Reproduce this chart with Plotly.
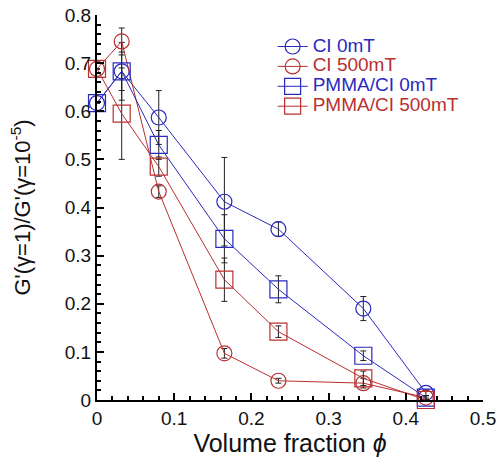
import plotly.graph_objects as go

phi = [0.0, 0.032, 0.080, 0.165, 0.235, 0.345, 0.426]

ci_0 = [0.617, 0.683, 0.587, 0.412, 0.355, 0.190, 0.015]
ci_0_err = [0.0, 0.060, 0.056, 0.092, 0.015, 0.025, 0.006]

ci_500 = [0.688, 0.745, 0.433, 0.097, 0.040, 0.035, 0.005]
ci_500_err = [0.0, 0.028, 0.012, 0.010, 0.005, 0.010, 0.004]

pmma_0 = [0.617, 0.683, 0.530, 0.335, 0.230, 0.092, 0.005]
pmma_0_err = [0.0, 0.040, 0.030, 0.050, 0.028, 0.010, 0.004]

pmma_500 = [0.688, 0.595, 0.485, 0.250, 0.142, 0.045, 0.000]
pmma_500_err = [0.0, 0.095, 0.020, 0.045, 0.012, 0.015, 0.004]

names = ["CI 0mT", "CI 500mT", "PMMA/CI 0mT", "PMMA/CI 500mT"]
BLUE = "#2a2abd"
RED = "#b83030"

series = [
    (names[0], ci_0, ci_0_err, BLUE, "circle-open", 15),
    (names[1], ci_500, ci_500_err, RED, "circle-open", 15),
    (names[2], pmma_0, pmma_0_err, BLUE, "square-open", 17),
    (names[3], pmma_500, pmma_500_err, RED, "square-open", 17),
]

fig = go.Figure()
for name, ys, errs, col, sym, sz in series:
    fig.add_trace(go.Scatter(
        x=phi, y=ys, mode="lines+markers",
        name=f"<span style='color:{col};font-size:19px'>{name}</span>",
        line=dict(color=col, width=1),
        marker=dict(symbol=sym, size=sz, color=col, line=dict(width=1.2, color=col)),
        error_y=dict(type="data", array=errs, visible=True, color="#222222",
                     thickness=1, width=3),
        cliponaxis=False,
    ))

fig.update_layout(
    width=497, height=471,
    margin=dict(l=97, r=14, t=15, b=71),
    paper_bgcolor="white", plot_bgcolor="white",
    font=dict(family="Liberation Sans, Arial, sans-serif", color="#111111"),
    showlegend=True,
    legend=dict(x=0.455, y=0.957, xanchor="left", yanchor="top",
                bgcolor="rgba(0,0,0,0)", font=dict(size=13),
                tracegroupgap=0, itemwidth=30),
    xaxis=dict(
        range=[0, 0.5], dtick=0.1, tick0=0,
        showgrid=False, zeroline=False, automargin=False,
        showline=True, linecolor="black", linewidth=2,
        ticks="inside", ticklen=7, tickwidth=1.5, tickcolor="black",
        tickfont=dict(size=19),
        minor=dict(dtick=0.02, ticks="inside", ticklen=4, tickwidth=1.5, tickcolor="black"),
        title=dict(text="Volume fraction <i>ϕ</i>", font=dict(size=25), standoff=6),
    ),
    yaxis=dict(
        range=[0, 0.8], dtick=0.1, tick0=0,
        showgrid=False, zeroline=False, automargin=False,
        showline=True, linecolor="black", linewidth=2,
        ticks="inside", ticklen=7, tickwidth=1.5, tickcolor="black",
        tickfont=dict(size=19),
        minor=dict(dtick=0.02, ticks="inside", ticklen=4, tickwidth=1.5, tickcolor="black"),
        title=dict(text="G'(γ=1)/G'(γ=10<sup>-5</sup>)", font=dict(size=22), standoff=28),
    ),
)

fig.write_html("out.html", config={"displayModeBar": False},
               post_script="document.body.style.margin='0';")
